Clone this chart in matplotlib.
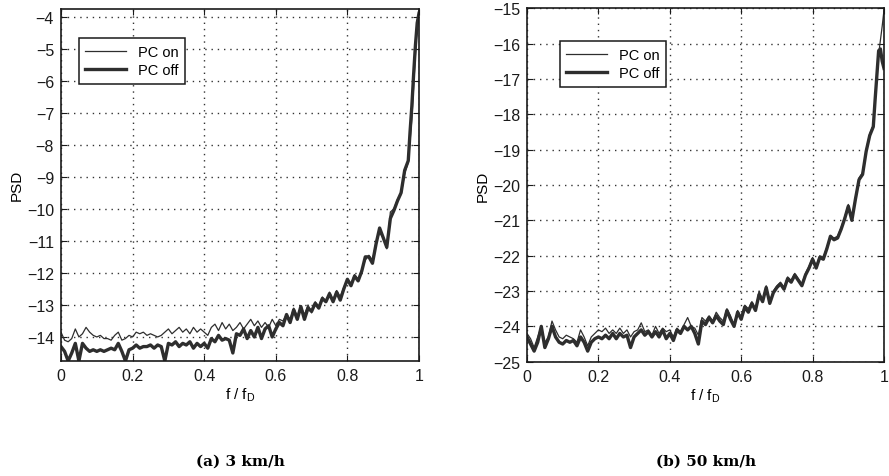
import matplotlib
matplotlib.use("Agg")
import matplotlib.pyplot as plt

plt.rcParams['font.family'] = ['Liberation Sans', 'DejaVu Sans']

# ---------------- data ----------------
f_axis = [0.00, 0.01, 0.02, 0.03, 0.04, 0.05, 0.06, 0.07, 0.08, 0.09,
          0.10, 0.11, 0.12, 0.13, 0.14, 0.15, 0.16, 0.17, 0.18, 0.19,
          0.20, 0.21, 0.22, 0.23, 0.24, 0.25, 0.26, 0.27, 0.28, 0.29,
          0.30, 0.31, 0.32, 0.33, 0.34, 0.35, 0.36, 0.37, 0.38, 0.39,
          0.40, 0.41, 0.42, 0.43, 0.44, 0.45, 0.46, 0.47, 0.48, 0.49,
          0.50, 0.51, 0.52, 0.53, 0.54, 0.55, 0.56, 0.57, 0.58, 0.59,
          0.60, 0.61, 0.62, 0.63, 0.64, 0.65, 0.66, 0.67, 0.68, 0.69,
          0.70, 0.71, 0.72, 0.73, 0.74, 0.75, 0.76, 0.77, 0.78, 0.79,
          0.80, 0.81, 0.82, 0.83, 0.84, 0.85, 0.86, 0.87, 0.88, 0.89,
          0.90, 0.91, 0.92, 0.93, 0.94, 0.95, 0.96,
          0.97, 0.975, 0.98, 0.985, 0.99, 0.995, 1.0]

psd_a_on = [-13.85, -14.1, -14.15, -14.05, -13.75, -14.0, -13.9, -13.7, -13.85, -13.95,
            -14.0, -13.95, -14.05, -14.05, -14.1, -13.95, -13.85, -14.1, -14.05, -13.95,
            -14.0, -13.85, -13.9, -13.85, -13.95, -13.9, -13.95, -14.0, -13.95, -13.85,
            -13.75, -13.9, -13.8, -13.7, -13.85, -13.75, -13.9, -13.7, -13.85, -13.75,
            -13.85, -13.95, -13.7, -13.6, -13.8, -13.55, -13.75, -13.6, -13.8, -13.7,
            -13.55, -13.75, -13.6, -13.45, -13.65, -13.5, -13.7, -13.55, -13.7, -13.45,
            -13.65, -13.45, -13.5, -13.3, -13.45, -13.1, -13.35, -13.05, -13.3, -13.0,
            -13.25, -12.9, -13.05, -12.75, -12.9, -12.6, -12.85, -12.55, -12.75, -12.45,
            -12.2, -12.35, -12.05, -12.2, -11.9, -11.6, -11.45, -11.6, -11.05, -10.75,
            -10.9, -11.25, -10.1, -10.0, -9.7, -9.55, -8.9,
            -8.55, -7.9, -7.2, -6.2, -5.2, -4.3, -3.8]

psd_a_off = [-14.3, -14.45, -14.75, -14.5, -14.2, -14.75, -14.2, -14.35, -14.45, -14.4,
             -14.45, -14.4, -14.45, -14.4, -14.35, -14.4, -14.2, -14.45, -14.75, -14.4,
             -14.35, -14.25, -14.35, -14.3, -14.3, -14.25, -14.35, -14.25, -14.3, -14.75,
             -14.2, -14.25, -14.15, -14.3, -14.2, -14.25, -14.15, -14.35, -14.2, -14.3,
             -14.2, -14.35, -14.05, -14.15, -13.95, -14.1, -14.05, -14.1, -14.5, -13.9,
             -13.95, -13.75, -14.05, -13.8, -14.0, -13.7, -14.05, -13.75, -13.65, -14.0,
             -13.75, -13.55, -13.65, -13.3, -13.55, -13.15, -13.45, -13.05, -13.45, -13.1,
             -13.2, -12.95, -13.1, -12.8, -12.9, -12.65, -12.9, -12.6, -12.85, -12.5,
             -12.2, -12.4, -12.1, -12.25, -11.95, -11.5, -11.5, -11.7, -11.1, -10.6,
             -10.9, -11.2, -10.3, -10.05, -9.75, -9.5, -8.8,
             -8.5, -7.6, -6.8, -5.8, -4.9, -4.2, -3.9]

psd_b_on = [-24.2, -24.35, -24.6, -24.3, -24.0, -24.45, -24.3, -23.85, -24.1, -24.3,
            -24.35, -24.25, -24.3, -24.35, -24.45, -24.1, -24.3, -24.55, -24.3, -24.2,
            -24.1, -24.15, -24.05, -24.2, -24.1, -24.2, -24.05, -24.2, -24.1, -24.3,
            -24.15, -24.1, -23.9, -24.15, -24.1, -24.25, -24.0, -24.2, -24.05, -24.15,
            -24.1, -24.3, -24.05, -24.15, -23.95, -23.75, -24.0, -24.05, -24.25, -23.75,
            -23.85, -23.7, -23.85, -23.6, -23.75, -23.85, -23.5, -23.7, -23.95, -23.55,
            -23.75, -23.4, -23.5, -23.3, -23.55, -23.0, -23.25, -22.85, -23.3, -23.0,
            -22.85, -22.75, -22.9, -22.6, -22.7, -22.5, -22.65, -22.8, -22.5, -22.3,
            -22.05, -22.3, -22.0, -22.05, -21.75, -21.45, -21.5, -21.45, -21.2, -20.9,
            -20.55, -20.95, -20.35, -19.8, -19.65, -19.0, -18.55,
            -18.3, -17.6, -16.9, -16.3, -15.9, -15.5, -15.05]

psd_b_off = [-24.3, -24.5, -24.7, -24.45, -24.0, -24.6, -24.35, -24.0, -24.3, -24.45,
             -24.5, -24.4, -24.45, -24.4, -24.55, -24.3, -24.45, -24.7, -24.45, -24.35,
             -24.3, -24.35, -24.25, -24.35, -24.2, -24.35, -24.2, -24.3, -24.25, -24.6,
             -24.3, -24.2, -24.1, -24.25, -24.15, -24.3, -24.15, -24.3, -24.1, -24.35,
             -24.2, -24.4, -24.1, -24.2, -24.0, -24.1, -24.0, -24.2, -24.5, -23.85,
             -23.95, -23.75, -23.9, -23.7, -23.85, -23.95, -23.55, -23.8, -24.0, -23.6,
             -23.8, -23.45, -23.6, -23.35, -23.55, -23.1, -23.3, -22.9, -23.35, -23.05,
             -22.9, -22.8, -22.95, -22.65, -22.75, -22.55, -22.7, -22.85, -22.55, -22.35,
             -22.1, -22.35, -22.05, -22.1, -21.8, -21.45, -21.55, -21.5, -21.25, -20.95,
             -20.6, -21.0, -20.4, -19.85, -19.7, -19.05, -18.6,
             -18.35, -17.6, -16.9, -16.2, -16.15, -16.5, -16.7]

x_ticks = [0, 0.2, 0.4, 0.6, 0.8, 1]
x_ticklabels = ['0', '0.2', '0.4', '0.6', '0.8', '1']
y_ticks_a = [-14, -13, -12, -11, -10, -9, -8, -7, -6, -5, -4]
y_ticks_b = [-25, -24, -23, -22, -21, -20, -19, -18, -17, -16, -15]
captions = ['(a) 3 km/h', '(b) 50 km/h']
legend_labels = ['PC on', 'PC off']

# ---------------- figure ----------------
W, H = 889, 477
fig = plt.figure(figsize=(W / 100, H / 100), dpi=100)


def px_axes(x0, x1, ytop, ybot):
    return fig.add_axes([x0 / W, 1 - ybot / H, (x1 - x0) / W, (ybot - ytop) / H])


ax_a = px_axes(61, 419, 9.5, 362)
ax_b = px_axes(527, 884, 9.3, 362.7)

line_col = '#2e2e2e'


def style(ax, on_vals, off_vals, yticks, ylim, leg_anchor):
    ax.plot(f_axis, on_vals, color=line_col, lw=0.9,
            label=legend_labels[0], solid_joinstyle='round')
    ax.plot(f_axis, off_vals, color=line_col, lw=2.4,
            label=legend_labels[1], solid_joinstyle='round')
    ax.set_xlim(0, 1)
    ax.set_ylim(*ylim)
    ax.set_xticks(x_ticks)
    ax.set_xticklabels(x_ticklabels)
    ax.set_yticks(yticks)
    ax.set_yticklabels([('\u2212%d' % -t) for t in yticks])
    ax.grid(True, color='#333333', linestyle=(0, (1, 3.5)), linewidth=1.0)
    ax.tick_params(direction='in', top=True, right=True, length=4, width=0.8,
                   labelsize=11.5, pad=5, colors='#1a1a1a')
    for s in ax.spines.values():
        s.set_linewidth(1.2)
        s.set_color('#1a1a1a')
    ax.set_ylabel('PSD', fontsize=11, labelpad=2)
    ax.set_xlabel('f / f$_\\mathregular{D}$', fontsize=11, labelpad=2)
    leg = ax.legend(loc='upper left', bbox_to_anchor=leg_anchor, fontsize=10.5,
                    frameon=True, fancybox=False, edgecolor='#1a1a1a', framealpha=1,
                    handlelength=2.8, handletextpad=0.8, borderpad=0.45,
                    labelspacing=0.3, borderaxespad=0)
    leg.get_frame().set_linewidth(1.1)


style(ax_a, psd_a_on, psd_a_off, y_ticks_a, (-14.75, -3.75), (0.05, 0.916))
style(ax_b, psd_b_on, psd_b_off, y_ticks_b, (-25, -15), (0.092, 0.907))

fig.text(240 / W, 1 - 462 / H, captions[0], ha='center', va='center',
         fontsize=11, fontweight='bold', family='DejaVu Serif')
fig.text(706 / W, 1 - 462 / H, captions[1], ha='center', va='center',
         fontsize=11, fontweight='bold', family='DejaVu Serif')

fig.savefig('out.png', dpi=100, facecolor='white')
